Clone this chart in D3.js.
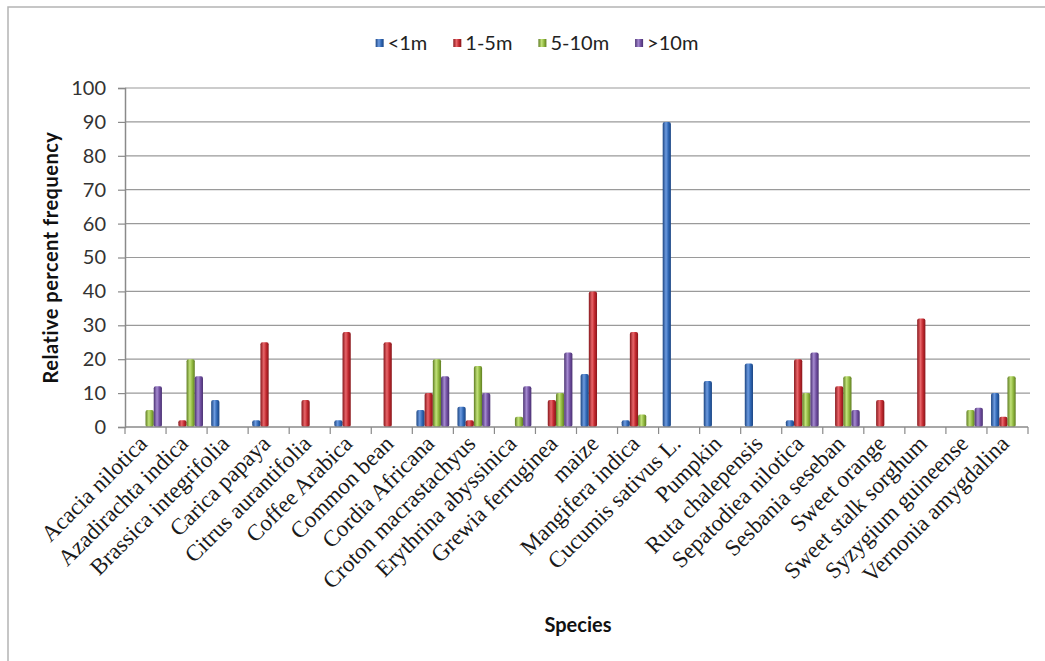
<!DOCTYPE html>
<html>
<head>
<meta charset="utf-8">
<script src="https://cdn.jsdelivr.net/npm/d3@7"></script>
<style>
  body { margin: 0; background: #fff; }
  svg { display: block; }
</style>
</head>
<body>
<script>
// species on the x axis
var species = ["Acacia nilotica", "Azadirachta indica", "Brassica integrifolia", "Carica papaya",
  "Citrus aurantifolia", "Coffee Arabica", "Common bean", "Cordia Africana", "Croton macrastachyus",
  "Erythrina abyssinica", "Grewia ferruginea", "maize", "Mangifera indica", "Cucumis sativus L.",
  "Pumpkin", "Ruta chalepensis", "Sepatodiea nilotica", "Sesbania seseban", "Sweet orange",
  "Sweet stalk sorghum", "Syzygium guineense", "Vernonia amygdalina"];
var seriesNames = ["<1m", "1-5m", "5-10m", ">10m"];
// values per height class, same order as species
var lt1m   = [0, 0, 8, 2, 0, 2, 0, 5, 6, 0, 0, 15.6, 2, 90, 13.6, 18.7, 2, 0, 0, 0, 0, 10];
var m1to5  = [0, 2, 0, 25, 8, 28, 25, 10, 2, 0, 8, 40, 28, 0, 0, 0, 20, 12, 8, 32, 0, 3];
var m5to10 = [5, 20, 0, 0, 0, 0, 0, 20, 18, 3, 10, 0, 3.7, 0, 0, 0, 10, 15, 0, 0, 5, 15];
var gt10m  = [12, 15, 0, 0, 0, 0, 0, 15, 10, 12, 22, 0, 0, 0, 0, 0, 22, 5, 0, 0, 5.7, 0];
var yTicks = [0, 10, 20, 30, 40, 50, 60, 70, 80, 90, 100];

var colors = ["#2f66b3", "#c0282e", "#8fb73e", "#6f4e9f"];
var darks  = ["#1c4582", "#87161b", "#5f7d22", "#4a3171"];
var lights = ["#6d9be0", "#e8666a", "#c2e27a", "#a58ad0"];

var W = 1045, H = 661;
var plotLeft = 125, plotRight = 1028, plotTop = 88, plotBottom = 427;

var svg = d3.select("body").append("svg")
    .attr("width", W)
    .attr("height", H);

// gradients to mimic the cylinder look
var defs = svg.append("defs");
colors.forEach(function(c, i) {
  var g = defs.append("linearGradient").attr("id", "grad" + i)
    .attr("x1", "0%").attr("x2", "100%").attr("y1", "0%").attr("y2", "0%");
  g.append("stop").attr("offset", "0%").attr("stop-color", darks[i]);
  g.append("stop").attr("offset", "40%").attr("stop-color", lights[i]);
  g.append("stop").attr("offset", "70%").attr("stop-color", c);
  g.append("stop").attr("offset", "100%").attr("stop-color", darks[i]);
});

// outer frame
svg.append("rect")
  .attr("x", 8).attr("y", 7)
  .attr("width", W + 20).attr("height", H + 20)
  .attr("fill", "none")
  .attr("stroke", "#b4b4b4")
  .attr("stroke-width", 1.5);

var x0 = d3.scaleBand().domain(species).range([plotLeft, plotRight]).padding(0);
var x1 = d3.scaleBand().domain(seriesNames)
  .range([x0.bandwidth() * 0.1, x0.bandwidth() * 0.9]).padding(0);
var y = d3.scaleLinear().domain([0, 100]).range([plotBottom, plotTop]);

// gridlines
svg.append("g")
  .selectAll("line")
  .data(yTicks.slice(1))
  .enter().append("line")
  .attr("x1", plotLeft).attr("x2", plotRight + 2)
  .attr("y1", function(d) { return y(d); })
  .attr("y2", function(d) { return y(d); })
  .attr("stroke", "#9a9a9a")
  .attr("stroke-width", 1.2);

// y axis
var yAxis = svg.append("g")
  .attr("transform", "translate(" + plotLeft + ",0)")
  .call(d3.axisLeft(y).tickValues(yTicks).tickSize(7).tickPadding(12));
yAxis.select(".domain").attr("stroke", "#8a8a8a").attr("stroke-width", 1.5);
yAxis.selectAll(".tick line").attr("stroke", "#8a8a8a").attr("stroke-width", 1.2);
yAxis.selectAll("text")
  .attr("font-family", "Lato, 'Open Sans', sans-serif")
  .attr("font-size", "20px")
  .attr("fill", "#333");

// bars
var rows = species.map(function(s, i) {
  return { name: s, vals: [lt1m[i], m1to5[i], m5to10[i], gt10m[i]] };
});

var groups = svg.append("g")
  .selectAll("g")
  .data(rows)
  .enter().append("g")
  .attr("transform", function(d) { return "translate(" + x0(d.name) + ",0)"; });

groups.selectAll("rect")
  .data(function(d) {
    return d.vals.map(function(v, i) { return { key: seriesNames[i], v: v, i: i }; })
      .filter(function(e) { return e.v > 0; });
  })
  .enter().append("rect")
  .attr("x", function(d) { return x1(d.key); })
  .attr("width", x1.bandwidth())
  .attr("y", function(d) { return y(d.v); })
  .attr("height", function(d) { return plotBottom - y(d.v); })
  .attr("rx", 2)
  .attr("fill", function(d) { return "url(#grad" + d.i + ")"; });

// x axis line and boundary ticks
var xAxis = svg.append("g");
xAxis.append("line")
  .attr("x1", plotLeft).attr("x2", plotRight)
  .attr("y1", plotBottom).attr("y2", plotBottom)
  .attr("stroke", "#8a8a8a").attr("stroke-width", 1.5);
xAxis.selectAll(".bt")
  .data(d3.range(species.length + 1))
  .enter().append("line")
  .attr("class", "bt")
  .attr("x1", function(i) { return plotLeft + i * x0.step(); })
  .attr("x2", function(i) { return plotLeft + i * x0.step(); })
  .attr("y1", plotBottom).attr("y2", plotBottom + 7)
  .attr("stroke", "#8a8a8a").attr("stroke-width", 1.2);

// rotated species labels
xAxis.selectAll(".lbl")
  .data(species)
  .enter().append("text")
  .attr("class", "lbl")
  .attr("transform", function(d) {
    return "translate(" + (x0(d) + x0.bandwidth() / 2 + 3) + "," + 445 + ") rotate(-45)";
  })
  .attr("text-anchor", "end")
  .attr("font-family", "'Liberation Serif', 'Times New Roman', serif")
  .attr("font-size", "23px")
  .attr("fill", "#1a1a1a")
  .text(function(d) { return d; });

// axis titles
svg.append("text")
  .attr("transform", "translate(58," + ((plotTop + plotBottom) / 2) + ") rotate(-90)")
  .attr("text-anchor", "middle")
  .attr("font-family", "Lato, 'Open Sans', sans-serif")
  .attr("font-weight", "bold")
  .attr("font-size", "20px")
  .attr("letter-spacing", "0.5px")
  .attr("fill", "#111")
  .text("Relative percent frequency");

svg.append("text")
  .attr("x", 578).attr("y", 632)
  .attr("text-anchor", "middle")
  .attr("font-family", "Lato, 'Open Sans', sans-serif")
  .attr("font-weight", "bold")
  .attr("font-size", "20px")
  .attr("fill", "#111")
  .text("Species");

// legend
var legend = svg.append("g").attr("font-family", "Lato, 'Open Sans', sans-serif");
var items = legend.selectAll("g")
  .data(seriesNames)
  .enter().append("g");
items.append("rect")
  .attr("width", 8).attr("height", 8)
  .attr("y", 39)
  .attr("fill", function(d, i) { return "url(#grad" + i + ")"; });
items.append("text")
  .attr("x", 12).attr("y", 50)
  .attr("font-size", "20px")
  .attr("fill", "#222")
  .text(function(d) { return d; });
var lx = 0, pos = [];
items.each(function() {
  var w = this.getBBox().width;
  pos.push(lx);
  lx += w + 26;
});
var totalW = lx - 26, start = 537 - totalW / 2;
items.attr("transform", function(d, i) { return "translate(" + (start + pos[i]) + ",0)"; });
</script>
</body>
</html>
